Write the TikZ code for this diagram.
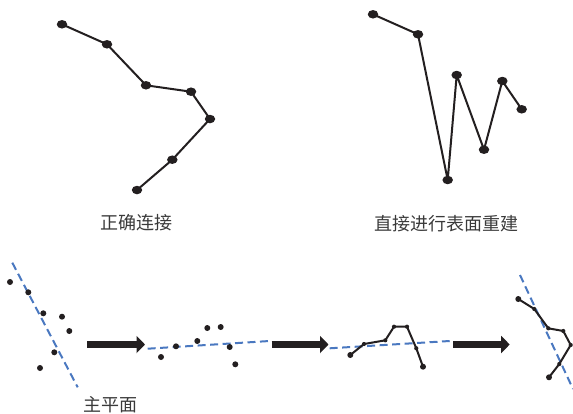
\documentclass[tikz,border=0pt]{standalone}
\usepackage{fontspec}
\newfontfamily\cjk{Noto Sans CJK SC}
\usetikzlibrary{shapes.geometric,arrows.meta}
\definecolor{ink}{HTML}{231F20}
\definecolor{planeblue}{HTML}{4A78C0}
\definecolor{labelgray}{HTML}{3A3A3A}
\tikzset{
  bigdot/.style={ellipse,fill=ink,draw=none,inner sep=0pt,minimum width=10.5pt,minimum height=8.5pt},
  pdot/.style={circle,fill=ink,draw=none,inner sep=0pt,minimum size=6pt},
  sdot/.style={circle,fill=ink,draw=none,inner sep=0pt,minimum size=4.2pt},
  edge/.style={draw=ink,line width=2pt,line join=round},
  plane/.style={draw=planeblue,line width=2pt,dash pattern=on 8pt off 4.5pt},
  fatarrow/.style={draw=ink,line width=7.8pt,-{Triangle[length=8.5pt,width=17pt]}},
  lab/.style={font=\cjk\fontsize{18pt}{20pt}\selectfont,text=labelgray,inner sep=0pt}
}
\begin{document}
\begin{tikzpicture}[x=1pt,y=-1pt]
\useasboundingbox (0,0) rectangle (573,413);
% top left: correct connection
\node[bigdot] (a1) at (62,24.3) {};
\node[bigdot] (a2) at (107,44.3) {};
\node[bigdot] (a3) at (146,85.3) {};
\node[bigdot] (a4) at (191,91.7) {};
\node[bigdot] (a5) at (210,119) {};
\node[bigdot] (a6) at (172.3,159.7) {};
\node[bigdot] (a7) at (137,190) {};
\draw[edge] (a1.center)--(a2.center)--(a3.center)--(a4.center)--(a5.center)--(a6.center)--(a7.center);
\node[lab] (la) at (136.5,223) {正确连接};
% top right: direct reconstruction
\node[bigdot] (b1) at (373,14.3) {};
\node[bigdot] (b2) at (418,34.3) {};
\node[bigdot] (b3) at (447.7,180) {};
\node[bigdot] (b4) at (456.7,75) {};
\node[bigdot] (b5) at (484,149.7) {};
\node[bigdot] (b6) at (502.3,81) {};
\node[bigdot] (b7) at (521.7,109.3) {};
\draw[edge] (b1.center)--(b2.center)--(b3.center)--(b4.center)--(b5.center)--(b6.center)--(b7.center);
\node[lab] (lb) at (446.7,223.3) {直接进行表面重建};
% bottom panel 1
\coordinate (p1s) at (12.3,262.7);
\coordinate (p1e) at (77.7,387.3);
\draw[plane] (p1s)--(p1e);
\node[pdot] (c1) at (10,282) {};
\node[pdot] (c2) at (28.3,292.3) {};
\node[pdot] (c3) at (43.3,313.3) {};
\node[pdot] (c4) at (62,316.7) {};
\node[pdot] (c5) at (69.3,331) {};
\node[pdot] (c6) at (54.3,352.3) {};
\node[pdot] (c7) at (40,368) {};
\node[lab] (lc) at (110,404.5) {主平面};
% arrow 1
\coordinate (r1s) at (87.3,344.5);
\coordinate (r1e) at (145,344.5);
\draw[fatarrow] (r1s)--(r1e);
% bottom panel 2
\coordinate (p2s) at (147.7,348.7);
\coordinate (p2e) at (269.5,341);
\draw[plane] (p2s)--(p2e);
\node[pdot] (d1) at (161,357) {};
\node[pdot] (d2) at (176,346.3) {};
\node[pdot] (d3) at (197.3,341) {};
\node[pdot] (d4) at (207.3,328) {};
\node[pdot] (d5) at (220.7,327) {};
\node[pdot] (d6) at (229.7,347) {};
\node[pdot] (d7) at (235.3,364.3) {};
% arrow 2
\coordinate (r2s) at (271.7,344.5);
\coordinate (r2e) at (328.5,344.5);
\draw[fatarrow] (r2s)--(r2e);
% bottom panel 3
\coordinate (p3s) at (329.7,348.3);
\coordinate (p3e) at (449.7,341);
\draw[plane] (p3s)--(p3e);
\node[pdot] (e1) at (350.3,355) {};
\node[sdot] (e2) at (364,344) {};
\node[sdot] (e3) at (385.3,340.3) {};
\node[sdot] (e4) at (394,326.7) {};
\node[sdot] (e5) at (407,326.7) {};
\node[sdot] (e6) at (416.3,348.3) {};
\node[pdot] (e7) at (423,366.7) {};
\draw[edge] (e1.center)--(e2.center)--(e3.center)--(e4.center)--(e5.center)--(e6.center)--(e7.center);
% arrow 3
\coordinate (r3s) at (453,344.5);
\coordinate (r3e) at (509.7,344.5);
\draw[fatarrow] (r3s)--(r3e);
% bottom panel 4
\coordinate (p4s) at (520,275);
\coordinate (p4e) at (573,389);
\draw[plane] (p4s)--(p4e);
\node[pdot] (f1) at (518.3,299) {};
\node[sdot] (f2) at (534.3,309) {};
\node[sdot] (f3) at (548.3,328.3) {};
\node[sdot] (f4) at (563.3,331) {};
\node[sdot] (f5) at (570.7,345) {};
\node[sdot] (f6) at (559.3,364) {};
\node[pdot] (f7) at (549,377.3) {};
\draw[edge] (f1.center)--(f2.center)--(f3.center)--(f4.center)--(f5.center)--(f6.center)--(f7.center);
\end{tikzpicture}
\end{document}
